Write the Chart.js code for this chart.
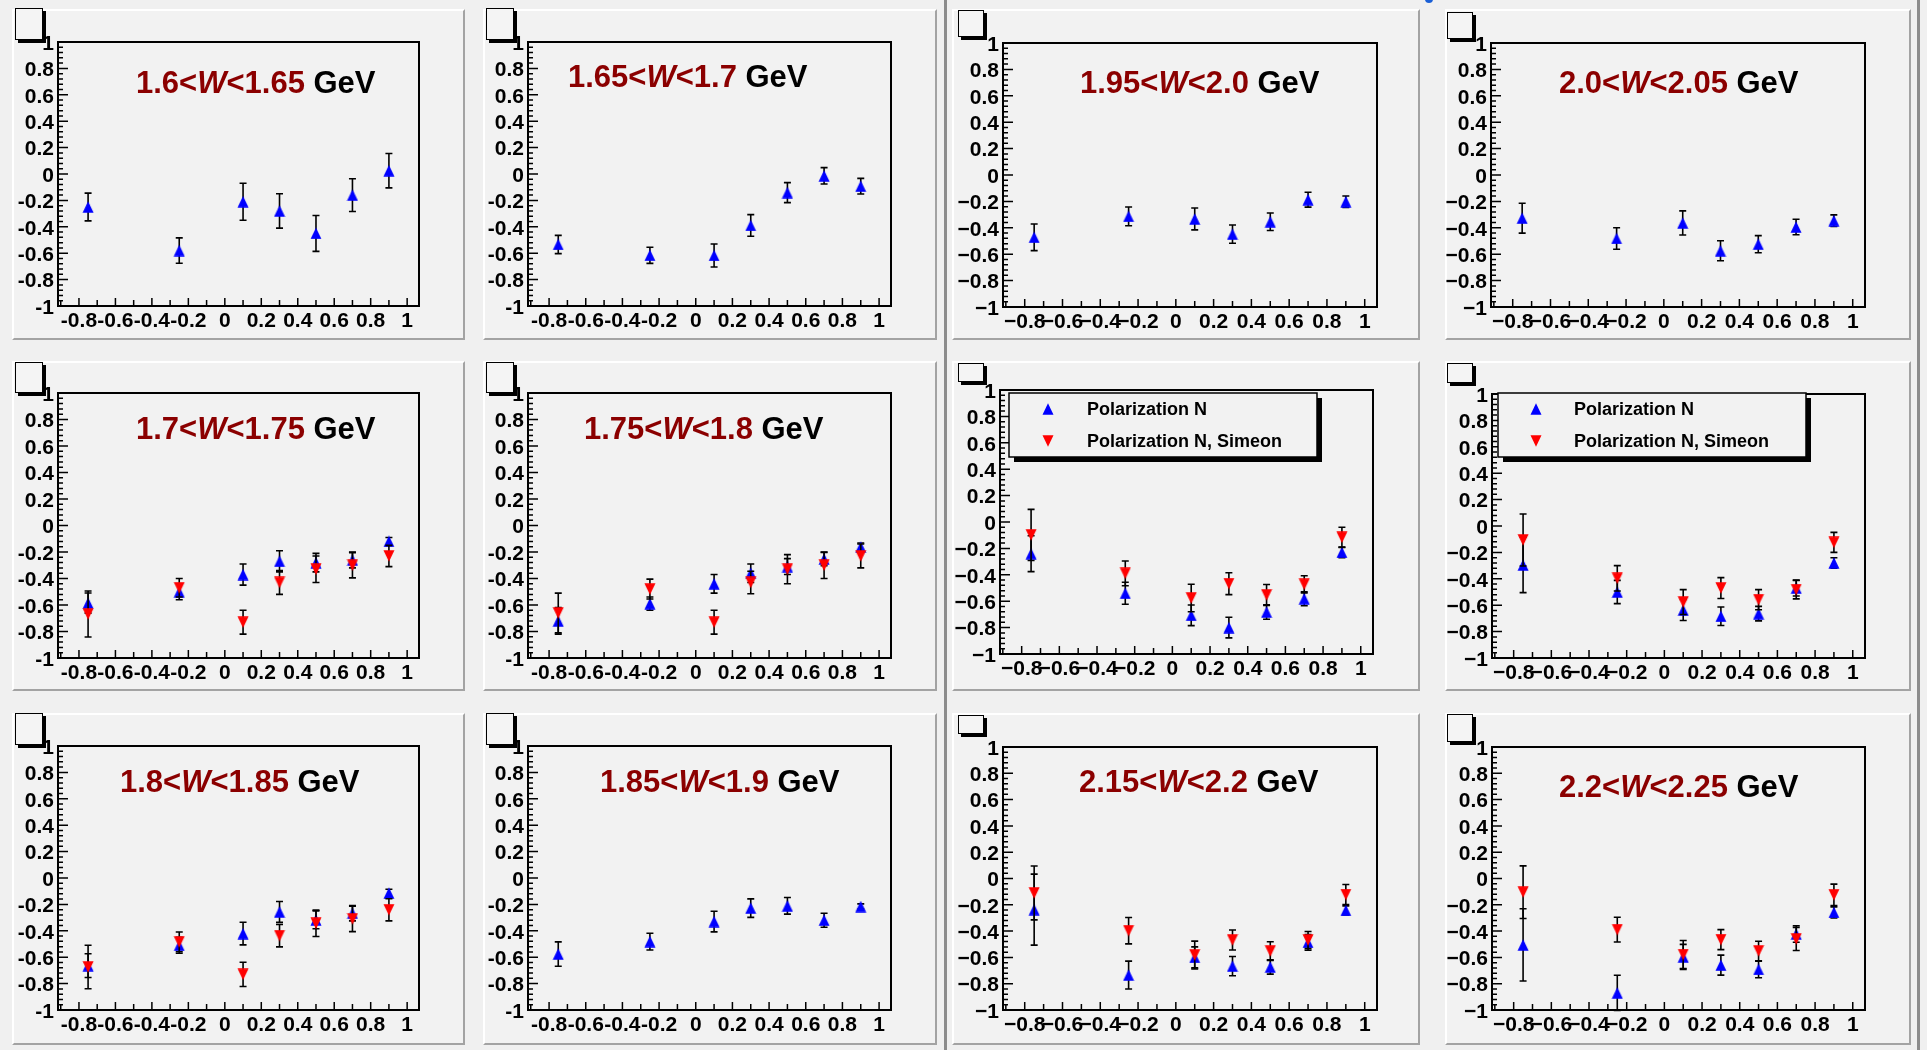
<!DOCTYPE html>
<html>
<head>
<meta charset="utf-8">
<title>Polarization N vs cos&theta;</title>
<script src="https://cdn.jsdelivr.net/npm/chart.js@4.4.1/dist/chart.umd.min.js"></script>
<style>
html,body{margin:0;padding:0}
body{width:1927px;height:1050px;overflow:hidden;position:relative;background:#f0f0f0}
.pad{position:absolute;box-sizing:border-box;background:#f2f2f2;border-style:solid;border-width:2px;border-color:#ffffff #a3a3a3 #a3a3a3 #ffffff}
.cv{position:absolute}
.tbox{position:absolute;box-sizing:border-box;border:1.5px solid #000;background:#f4f4f4;box-shadow:3px 3px 0 #000}
.sep{position:absolute;background:#8c8c8c}
.nub{position:absolute;left:1425px;top:-3px;width:8px;height:6px;border-radius:0 0 4px 4px;background:#1a5fd6}
</style>
</head>
<body>
<div class="sep" style="left:944px;top:0;width:3px;height:1050px"></div>
<div class="sep" style="left:1917px;top:0;width:3px;height:1050px"></div>
<div class="nub"></div>
<script>
// x positions of the angular bins (cos theta)
const cosTheta = [-0.75, -0.25, 0.1, 0.3, 0.5, 0.7, 0.9];

// labelled tick values on both axes
const xTicks = [-0.8, -0.6, -0.4, -0.2, 0, 0.2, 0.4, 0.6, 0.8, 1];
const yTicks = [-1, -0.8, -0.6, -0.4, -0.2, 0, 0.2, 0.4, 0.6, 0.8, 1];

// W bin edges (GeV) shown in each pad; pads carrying the legend have none
const wBins = [
  ['1.6', '1.65'], ['1.65', '1.7'], ['1.95', '2.0'], ['2.0', '2.05'],
  ['1.7', '1.75'], ['1.75', '1.8'], null, null,
  ['1.8', '1.85'], ['1.85', '1.9'], ['2.15', '2.2'], ['2.2', '2.25']
];

const seriesNames = ['Polarization N', 'Polarization N, Simeon'];

// Polarization N, one row per pad
const polN = [
  [-0.25, -0.58, -0.21, -0.28, -0.45, -0.16, 0.025],
  [-0.534, -0.616, -0.617, -0.39, -0.141, -0.014, -0.092],
  [-0.472, -0.313, -0.333, -0.448, -0.354, -0.187, -0.202],
  [-0.327, -0.481, -0.363, -0.574, -0.524, -0.394, -0.346],
  [-0.585, -0.50, -0.37, -0.27, -0.28, -0.26, -0.12],
  [-0.72, -0.59, -0.44, -0.36, -0.31, -0.253, -0.162],
  [-0.24, -0.54, -0.707, -0.80, -0.682, -0.581, -0.23],
  [-0.295, -0.50, -0.636, -0.684, -0.664, -0.47, -0.28],
  [-0.664, -0.51, -0.421, -0.257, -0.317, -0.267, -0.115],
  [-0.576, -0.482, -0.33, -0.228, -0.211, -0.32, -0.216],
  [-0.237, -0.734, -0.60, -0.666, -0.673, -0.486, -0.243],
  [-0.505, -0.87, -0.596, -0.659, -0.692, -0.422, -0.258]
];
const polNErr = [
  [0.105, 0.096, 0.14, 0.13, 0.136, 0.124, 0.13],
  [0.069, 0.061, 0.087, 0.082, 0.076, 0.062, 0.059],
  [0.101, 0.071, 0.083, 0.069, 0.066, 0.056, 0.043],
  [0.113, 0.081, 0.091, 0.076, 0.065, 0.059, 0.044],
  [0.076, 0.06, 0.08, 0.08, 0.07, 0.06, 0.03],
  [0.10, 0.05, 0.07, 0.07, 0.06, 0.05, 0.03],
  [0.136, 0.083, 0.078, 0.078, 0.055, 0.053, 0.04],
  [0.21, 0.088, 0.08, 0.07, 0.055, 0.06, 0.04],
  [0.09, 0.06, 0.086, 0.079, 0.068, 0.058, 0.03],
  [0.092, 0.063, 0.078, 0.07, 0.063, 0.053, 0.02],
  [0.27, 0.106, 0.08, 0.073, 0.054, 0.06, 0.035],
  [0.275, 0.134, 0.095, 0.076, 0.063, 0.063, 0.042]
];

// Polarization N from the Simeon analysis (only where available)
const polSimeon = [
  null, null, null, null,
  [-0.668, -0.47, -0.73, -0.43, -0.33, -0.30, -0.23],
  [-0.66, -0.48, -0.73, -0.43, -0.33, -0.30, -0.23],
  [-0.098, -0.389, -0.576, -0.467, -0.553, -0.472, -0.116],
  [-0.106, -0.396, -0.576, -0.47, -0.558, -0.482, -0.124],
  [-0.674, -0.484, -0.73, -0.437, -0.343, -0.31, -0.241],
  null,
  [-0.11, -0.397, -0.582, -0.468, -0.552, -0.468, -0.122],
  [-0.104, -0.389, -0.578, -0.465, -0.551, -0.46, -0.124]
];
const polSimeonErr = [
  null, null, null, null,
  [0.174, 0.07, 0.09, 0.09, 0.10, 0.095, 0.08],
  [0.15, 0.075, 0.09, 0.085, 0.11, 0.10, 0.09],
  [0.194, 0.094, 0.104, 0.083, 0.08, 0.065, 0.076],
  [0.197, 0.096, 0.094, 0.079, 0.076, 0.07, 0.076],
  [0.165, 0.075, 0.092, 0.085, 0.10, 0.096, 0.084],
  null,
  [0.205, 0.10, 0.106, 0.076, 0.071, 0.065, 0.076],
  [0.20, 0.094, 0.106, 0.076, 0.074, 0.088, 0.081]
];

// axis ranges
const xRange = [-0.915, 1.065];
const yRange = [-1, 1];

// pad geometry in page pixels: box, frame, small title box, label anchor
const layout = [
  {box:[12,9,465,340],    frame:[58,42,419,306],    tbox:[15,8,43,40],     title:[136,93],  minus:'-'},
  {box:[483,9,937,340],   frame:[528,42,891,306],   tbox:[486,8,514,40],   title:[568,87],  minus:'-'},
  {box:[952,9,1420,340],  frame:[1003,43,1377,307], tbox:[958,10,984,37],  title:[1080,93], minus:'\u2212'},
  {box:[1445,9,1911,340], frame:[1491,43,1865,307], tbox:[1447,12,1473,39],title:[1559,93], minus:'\u2212'},
  {box:[12,361,465,691],  frame:[58,393,419,658],   tbox:[15,362,43,393],  title:[136,439], minus:'-'},
  {box:[483,361,937,691], frame:[528,393,891,658],  tbox:[486,362,514,393],title:[584,439], minus:'-'},
  {box:[952,361,1420,691],frame:[1000,390,1373,654],tbox:[958,363,984,382],legend:[1009,393,1317,457], markX:1048, textX:1087, minus:'\u2212'},
  {box:[1445,361,1911,691],frame:[1492,394,1865,658],tbox:[1447,363,1473,383],legend:[1498,393,1806,457], markX:1536, textX:1574, minus:'\u2212'},
  {box:[12,713,465,1045], frame:[58,746,419,1010],  tbox:[15,713,43,745],  title:[120,792], minus:'-'},
  {box:[483,713,937,1045],frame:[528,746,891,1010], tbox:[486,713,514,745],title:[600,792], minus:'-'},
  {box:[952,713,1420,1045],frame:[1003,747,1377,1010],tbox:[958,715,984,734],title:[1079,792],minus:'\u2212'},
  {box:[1445,713,1911,1045],frame:[1492,747,1865,1010],tbox:[1447,714,1473,742],title:[1559,797],minus:'\u2212'}
];

const FONT = "'Liberation Sans', Arial, Helvetica, sans-serif";
const TITLE_RED = '#8b0000';

// triangle markers as small sprites (bounding box centred on the point)
function triangleSprite(color, down) {
  const c = document.createElement('canvas');
  c.width = 12; c.height = 12;
  const g = c.getContext('2d');
  g.fillStyle = color;
  g.beginPath();
  if (down) { g.moveTo(0.5, 0.3); g.lineTo(11.5, 0.3); g.lineTo(6, 11.8); }
  else { g.moveTo(6, 0.2); g.lineTo(11.5, 11.7); g.lineTo(0.5, 11.7); }
  g.closePath();
  g.fill();
  return c;
}
const markUp = triangleSprite('#0000ff', false);
const markDown = triangleSprite('#ff0000', true);

function fmtTick(v, minus) {
  const r = Math.round(v * 10) / 10;
  if (r === 0) return '0';
  const s = String(Math.abs(r));
  return r < 0 ? minus + s : s;
}

// frame box with inward major/minor ticks on the left and bottom axes
const framePlugin = {
  id: 'padFrame',
  beforeDatasetsDraw(chart) {
    const {ctx, chartArea: a, scales: {x, y}} = chart;
    ctx.save();
    ctx.strokeStyle = '#000';
    ctx.lineWidth = 1.5;
    ctx.beginPath();
    const yt = y.ticks.map(t => t.value);
    const ys = yt[1] - yt[0];
    yt.forEach((v, k) => {
      const p = y.getPixelForValue(v);
      ctx.moveTo(a.left, p); ctx.lineTo(a.left + 10, p);
      if (k < yt.length - 1) {
        for (let m = 1; m < 5; m++) {
          const pm = y.getPixelForValue(v + m * ys / 5);
          ctx.moveTo(a.left, pm); ctx.lineTo(a.left + 5, pm);
        }
      }
    });
    const xt = x.ticks.map(t => t.value);
    const xs = xt[1] - xt[0];
    xt.forEach(v => {
      const p = x.getPixelForValue(v);
      ctx.moveTo(p, a.bottom); ctx.lineTo(p, a.bottom - 8);
    });
    [xt[0] - xs / 2, ...xt.map(v => v + xs / 2)].forEach(v => {
      if (v <= x.min || v >= x.max) return;
      const p = x.getPixelForValue(v);
      ctx.moveTo(p, a.bottom); ctx.lineTo(p, a.bottom - 6);
    });
    ctx.stroke();
    ctx.lineWidth = 2;
    ctx.strokeRect(a.left, a.top, a.right - a.left, a.bottom - a.top);
    ctx.restore();
  }
};

// vertical error bars with end caps, drawn just before each dataset's markers
const errorBarPlugin = {
  id: 'errorBars',
  beforeDatasetDraw(chart, args) {
    const ds = chart.data.datasets[args.index];
    if (!ds.errors) return;
    const {ctx, scales: {x, y}} = chart;
    ctx.save();
    ctx.strokeStyle = '#000';
    ctx.lineWidth = 1.6;
    ctx.beginPath();
    ds.data.forEach((pt, k) => {
      const e = ds.errors[k];
      const px = x.getPixelForValue(pt.x);
      const hi = y.getPixelForValue(pt.y + e);
      const lo = y.getPixelForValue(pt.y - e);
      ctx.moveTo(px, hi); ctx.lineTo(px, lo);
      ctx.moveTo(px - 3.5, hi); ctx.lineTo(px + 3.5, hi);
      ctx.moveTo(px - 3.5, lo); ctx.lineTo(px + 3.5, lo);
    });
    ctx.stroke();
    ctx.restore();
  }
};

// W-bin caption or the legend box
const labelPlugin = {
  id: 'padLabels',
  afterDraw(chart, args, opts) {
    const ctx = chart.ctx;
    if (opts.bin) {
      let [tx, ty] = opts.at;
      const parts = [
        [opts.bin[0] + '<', 'bold', TITLE_RED],
        ['W', 'italic bold', TITLE_RED],
        ['<' + opts.bin[1], 'bold', TITLE_RED],
        [' GeV', 'bold', '#000']
      ];
      ctx.save();
      ctx.textAlign = 'left';
      ctx.textBaseline = 'alphabetic';
      for (const [t, st, c] of parts) {
        ctx.font = st + ' 31px ' + FONT;
        ctx.fillStyle = c;
        ctx.fillText(t, tx, ty);
        tx += ctx.measureText(t).width;
      }
      ctx.restore();
    }
    if (opts.legend) {
      const [l, t, r, b] = opts.legend;
      ctx.save();
      ctx.fillStyle = '#000';
      ctx.fillRect(l + 5, t + 5, r - l, b - t);
      ctx.fillStyle = '#f2f2f2';
      ctx.fillRect(l, t, r - l, b - t);
      ctx.lineWidth = 1.5;
      ctx.strokeStyle = '#000';
      ctx.strokeRect(l, t, r - l, b - t);
      chart.data.datasets.forEach((ds, i) => {
        const yy = t + (b - t) * (0.25 + 0.5 * i);
        Chart.helpers.drawPoint(ctx, {pointStyle: ds.pointStyle, radius: 6, rotation: 0, borderWidth: 0}, opts.markX, yy);
        ctx.fillStyle = '#000';
        ctx.font = 'bold 18px ' + FONT;
        ctx.textAlign = 'left';
        ctx.textBaseline = 'middle';
        ctx.fillText(ds.label, opts.textX, yy + 1);
      });
      ctx.restore();
    }
  }
};

function makeDataset(label, values, errs, sprite, color, order) {
  return {
    label,
    data: cosTheta.map((x, k) => ({x, y: values[k]})),
    errors: errs,
    showLine: false,
    pointStyle: sprite,
    pointRadius: 6,
    pointBackgroundColor: color,
    pointBorderColor: color,
    pointBorderWidth: 0,
    order
  };
}

layout.forEach((L, i) => {
  const [bl, bt, br, bb] = L.box;
  const [fl, ft, fr, fb] = L.frame;
  const W = br - bl, H = bb - bt;

  const pad = document.createElement('div');
  pad.className = 'pad';
  Object.assign(pad.style, {left: bl + 'px', top: bt + 'px', width: W + 'px', height: H + 'px'});
  document.body.appendChild(pad);

  const cv = document.createElement('canvas');
  cv.className = 'cv';
  cv.width = W; cv.height = H;
  Object.assign(cv.style, {left: bl + 'px', top: bt + 'px', width: W + 'px', height: H + 'px'});
  document.body.appendChild(cv);

  const tb = document.createElement('div');
  tb.className = 'tbox';
  const [ql, qt, qr, qb] = L.tbox;
  Object.assign(tb.style, {left: ql + 'px', top: qt + 'px', width: (qr - ql) + 'px', height: (qb - qt) + 'px'});
  document.body.appendChild(tb);

  const datasets = [makeDataset(seriesNames[0], polN[i], polNErr[i], markUp, '#0000ff', 2)];
  if (polSimeon[i]) datasets.push(makeDataset(seriesNames[1], polSimeon[i], polSimeonErr[i], markDown, '#ff0000', 1));

  const tickFont = {family: FONT, size: 21, weight: 'bold'};
  const labelOpts = {
    bin: wBins[i],
    at: L.title ? [L.title[0] - bl, L.title[1] - bt] : null,
    legend: L.legend ? [L.legend[0] - bl, L.legend[1] - bt, L.legend[2] - bl, L.legend[3] - bt] : null,
    markX: L.markX ? L.markX - bl : 0,
    textX: L.textX ? L.textX - bl : 0
  };

  new Chart(cv, {
    type: 'scatter',
    data: {datasets},
    plugins: [framePlugin, errorBarPlugin, labelPlugin],
    options: {
      responsive: false,
      animation: false,
      devicePixelRatio: 1,
      events: [],
      layout: {padding: {left: 0, top: ft - bt, right: br - fr, bottom: 0}},
      plugins: {legend: {display: false}, tooltip: {enabled: false}, padLabels: labelOpts},
      scales: {
        x: {
          type: 'linear', min: xRange[0], max: xRange[1],
          grid: {display: false, drawTicks: false}, border: {display: false},
          ticks: {autoSkip: false, maxRotation: 0, minRotation: 0,
                  padding: 3, color: '#000', font: tickFont, callback: v => fmtTick(v, L.minus)},
          afterBuildTicks(s) { s.ticks = xTicks.map(value => ({value})); },
          afterFit(s) { s.height = bb - fb; s.paddingLeft = 0; s.paddingRight = 0; }
        },
        y: {
          type: 'linear', min: yRange[0], max: yRange[1],
          grid: {display: false, drawTicks: false}, border: {display: false},
          ticks: {autoSkip: false, padding: 4, labelOffset: 2, color: '#000', font: tickFont,
                  callback: v => fmtTick(v, L.minus)},
          afterBuildTicks(s) { s.ticks = yTicks.map(value => ({value})); },
          afterFit(s) { s.width = fl - bl; s.paddingTop = 0; s.paddingBottom = 0; }
        }
      }
    }
  });
});
</script>
</body>
</html>
